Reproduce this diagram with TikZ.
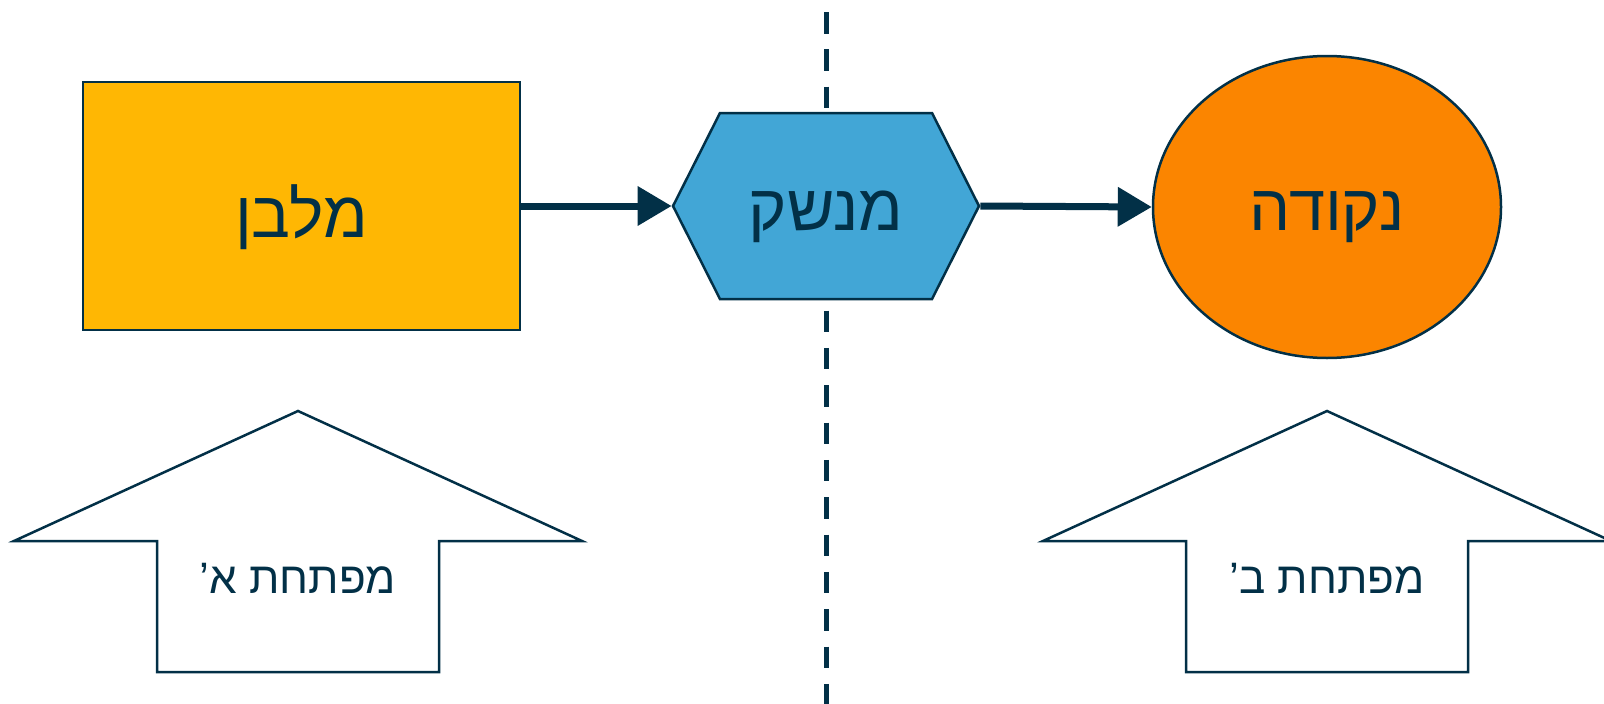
\documentclass[tikz,border=0pt]{standalone}
\usepackage{fontspec}
\setmainfont{Liberation Sans}
\newfontfamily\hebfont[Script=Hebrew]{Liberation Sans}
\TeXXeTstate=1
\usetikzlibrary{shapes.geometric,shapes.symbols,arrows.meta,calc}
\definecolor{navy}{HTML}{023047}
\definecolor{amber}{HTML}{FFB703}
\definecolor{sky}{HTML}{42A6D6}
\definecolor{tangerine}{HTML}{FB8500}
\tikzset{
  outline/.style={draw=navy, line width=2.5pt},
  label/.style={text=navy, font=\hebfont\fontsize{65}{65}\selectfont, inner sep=0pt},
  caption/.style={text=navy, font=\hebfont\fontsize{44}{44}\selectfont, inner sep=0pt},
  flow/.style={draw=navy, line width=7pt, -{Triangle[length=34pt,width=38pt]}},
  divider/.style={draw=navy, line width=5.5pt, dash pattern=on 21.5pt off 15.83pt, dash phase=25.33pt},
}
\begin{document}
\begin{tikzpicture}[x=1pt,y=-1pt]
\useasboundingbox (0,0) rectangle (1604,704);
% vertical separator
\coordinate (sepTop) at (826.5,0);
\coordinate (sepBot) at (826.5,704);
\draw[divider] (sepTop) -- (sepBot);
% main blocks
\node[outline, fill=amber, rectangle, minimum width=437pt, minimum height=248pt, inner sep=0pt] (rect) at (301.5,206) {};
\node[label] at ($(rect.center)+(0,11)$) {\beginR מלבן\endR};
\node[outline, fill=sky, signal, signal to=east and west, signal pointer angle=126.4, minimum width=306pt, minimum height=186pt, inner sep=0pt] (hex) at (826,206) {};
\node[label] at ($(hex.center)+(0,11)$) {\beginR מנשק\endR};
\node[outline, fill=tangerine, ellipse, minimum width=348pt, minimum height=302pt, inner sep=0pt] (ell) at (1327,207) {};
\node[label] at ($(ell.center)+(0,10)$) {\beginR נקודה\endR};
% connectors
\draw[flow] (rect.east |- hex.west) -- (hex.west);
\draw[flow] (hex.east) -- (ell.west);
% up arrows
\draw[outline, fill=white] (298,411) -- (582,541) -- (439,541) -- (439,672) -- (157,672) -- (157,541) -- (14,541) -- cycle;
\node[caption] (capA) at (298,578) {\beginR מפתחת א’\endR};
\draw[outline, fill=white] (1327,411) -- (1611,541) -- (1468,541) -- (1468,672) -- (1186,672) -- (1186,541) -- (1043,541) -- cycle;
\node[caption] (capB) at (1327,578) {\beginR מפתחת ב’\endR};
\end{tikzpicture}
\end{document}
